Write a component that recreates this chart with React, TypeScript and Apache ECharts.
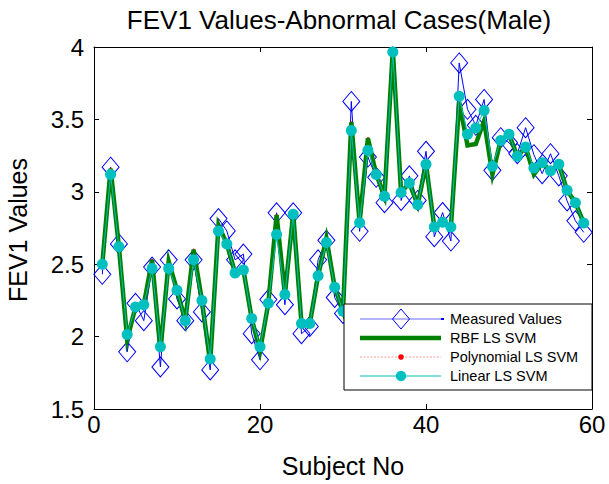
import React, { useEffect, useRef } from "react";
import * as echarts from "echarts";

const subjects: number[] = Array.from({ length: 59 }, (_, i) => i + 1);

const measuredValues: number[] = [
  2.43, 3.17, 2.64, 1.895, 2.23, 2.11, 2.48, 1.79, 2.53, 2.26,
  2.11, 2.53, 2.17, 1.77, 2.815, 2.73, 2.53, 2.57, 2.02, 1.84,
  2.256, 2.855, 2.22, 2.855, 2.02, 2.07, 2.53, 2.665, 2.27, 2.16,
  3.624, 2.727, 3.24, 3.1, 2.925, 4.005, 2.94, 3.11, 2.94, 3.28,
  2.69, 2.857, 2.66, 3.89, 3.57, 3.459, 3.638, 3.148, 3.374, 3.34,
  3.263, 3.443, 3.256, 3.125, 3.263, 3.11, 2.937, 2.8, 2.72,
];

const rbfValues: number[] = [
  2.5, 3.16, 2.62, 1.98, 2.205, 2.22, 2.53, 1.9, 2.52, 2.32,
  2.11, 2.6, 2.25, 1.82, 2.77, 2.64, 2.44, 2.46, 2.125, 1.9,
  2.23, 2.84, 2.29, 2.85, 2.09, 2.09, 2.42, 2.68, 2.34, 2.175,
  3.48, 2.787, 3.37, 3.12, 2.97, 3.98, 2.995, 3.06, 2.91, 3.19,
  2.757, 2.79, 2.757, 3.62, 3.32, 3.33, 3.49, 3.12, 3.355, 3.397,
  3.245, 3.31, 3.12, 3.2, 3.145, 3.19, 3.01, 2.925, 2.785,
];

const polyValues: number[] = [
  2.5, 3.16, 2.62, 1.98, 2.205, 2.22, 2.53, 1.9, 2.52, 2.32,
  2.11, 2.6, 2.25, 1.82, 2.77, 2.64, 2.44, 2.46, 2.125, 1.9,
  2.23, 2.84, 2.29, 2.85, 2.09, 2.09, 2.42, 2.68, 2.34, 2.175,
  3.48, 2.787, 3.37, 3.12, 2.97, 3.98, 2.995, 3.06, 2.91, 3.19,
  2.757, 2.79, 2.757, 3.62, 3.32, 3.33, 3.49, 3.12, 3.355, 3.397,
  3.245, 3.31, 3.12, 3.2, 3.145, 3.19, 3.01, 2.925, 2.785,
];

const linearValues: number[] = [
  2.5, 3.12, 2.62, 2.015, 2.205, 2.22, 2.47, 1.93, 2.47, 2.32,
  2.11, 2.53, 2.25, 1.845, 2.73, 2.64, 2.44, 2.46, 2.125, 1.93,
  2.23, 2.705, 2.29, 2.845, 2.09, 2.09, 2.42, 2.65, 2.34, 2.175,
  3.424, 2.787, 3.286, 3.12, 2.97, 3.965, 2.995, 3.06, 2.91, 3.19,
  2.757, 2.79, 2.757, 3.66, 3.397, 3.44, 3.562, 3.176, 3.355, 3.397,
  3.245, 3.31, 3.165, 3.2, 3.145, 3.19, 3.01, 2.925, 2.785,
];

const legendNames: string[] = [
  "Measured Values",
  "RBF LS SVM",
  "Polynomial LS SVM",
  "Linear LS SVM",
];

const FONT = "'Liberation Sans', Arial, Helvetica, sans-serif";

const pairs = (vals: number[]) => vals.map((v, i) => [subjects[i], v]);

export default function App() {
  const ref = useRef<HTMLDivElement>(null);

  useEffect(() => {
    document.body.style.margin = "0";
    if (!ref.current) return;
    const chart = echarts.init(ref.current, undefined, { renderer: "svg" });

    const gridLeft = 94;
    const gridRight = 17;
    const gridTop = 47;
    const gridBottom = 75;
    const plotRight = 609 - gridRight;
    const plotCenterX = (gridLeft + plotRight) / 2;

    const axisCommon = {
      axisLine: { show: true, onZero: false, lineStyle: { color: "#000", width: 1 } },
      axisTick: { show: true, inside: true, length: 5, lineStyle: { color: "#000", width: 1 } },
      splitLine: { show: false },
    };

    const lgX = 344;
    const lgY = 304;
    const lgW = plotRight - lgX;
    const lgH = 86;
    const rowY = [319, 338, 357, 376];
    const sx0 = 360;
    const sx1 = 441;
    const sxm = 401;
    const tx = 450;

    const legendGraphics: any[] = [
      {
        type: "rect",
        shape: { x: lgX, y: lgY, width: lgW, height: lgH },
        style: { fill: "#fff", stroke: "#000", lineWidth: 1 },
        z: 100,
      },
      {
        type: "line",
        shape: { x1: sx0, y1: rowY[0], x2: sx1, y2: rowY[0] },
        style: { stroke: "#6a6aff", lineWidth: 1 },
        z: 101,
      },
      {
        type: "line",
        shape: { x1: sx1, y1: rowY[0], x2: sx1 + 3, y2: rowY[0] },
        style: { stroke: "#0000ff", lineWidth: 2 },
        z: 101,
      },
      {
        type: "polygon",
        shape: {
          points: [
            [sxm, rowY[0] - 10],
            [sxm + 8.5, rowY[0]],
            [sxm, rowY[0] + 10],
            [sxm - 8.5, rowY[0]],
          ],
        },
        style: { fill: "rgba(0,0,0,0)", stroke: "#0000ff", lineWidth: 1 },
        z: 102,
      },
      {
        type: "line",
        shape: { x1: sx0, y1: rowY[1], x2: sx1, y2: rowY[1] },
        style: { stroke: "#008000", lineWidth: 4.5 },
        z: 101,
      },
      {
        type: "line",
        shape: { x1: sx0, y1: rowY[2], x2: sx1, y2: rowY[2] },
        style: { stroke: "#ff9a9a", lineWidth: 1, lineDash: [2, 1.5] },
        z: 101,
      },
      {
        type: "circle",
        shape: { cx: sxm, cy: rowY[2], r: 2.8 },
        style: { fill: "#ff0000" },
        z: 102,
      },
      {
        type: "line",
        shape: { x1: sx0, y1: rowY[3], x2: sx1, y2: rowY[3] },
        style: { stroke: "#00bfbf", lineWidth: 1 },
        z: 101,
      },
      {
        type: "circle",
        shape: { cx: sxm, cy: rowY[3], r: 5.2 },
        style: { fill: "#00bfbf" },
        z: 102,
      },
      ...legendNames.map((name, k) => ({
        type: "text",
        x: tx,
        y: rowY[k],
        style: {
          text: name,
          fill: "#000",
          font: `14.5px ${FONT}`,
          textAlign: "left",
          textVerticalAlign: "middle",
        },
        z: 102,
      })),
    ];

    chart.setOption({
      animation: false,
      backgroundColor: "#fff",
      grid: { left: gridLeft, right: gridRight, top: gridTop, bottom: gridBottom },
      xAxis: [
        {
          type: "value",
          min: 0,
          max: 60,
          interval: 20,
          position: "bottom",
          ...axisCommon,
          axisLabel: { color: "#000", fontSize: 24, fontFamily: FONT, margin: 3 },
        },
        {
          type: "value",
          min: 0,
          max: 60,
          interval: 20,
          position: "top",
          ...axisCommon,
          axisLabel: { show: false },
        },
      ],
      yAxis: [
        {
          type: "value",
          min: 1.5,
          max: 4,
          interval: 0.5,
          position: "left",
          ...axisCommon,
          axisLabel: { color: "#000", fontSize: 24, fontFamily: FONT, margin: 10 },
        },
        {
          type: "value",
          min: 1.5,
          max: 4,
          interval: 0.5,
          position: "right",
          ...axisCommon,
          axisLabel: { show: false },
        },
      ],
      series: [
        {
          name: legendNames[0],
          type: "line",
          data: pairs(measuredValues),
          symbol: "diamond",
          symbolSize: [17, 20],
          showSymbol: true,
          showAllSymbol: true,
          lineStyle: { color: "#0000ff", width: 1 },
          itemStyle: { color: "rgba(0,0,0,0)", borderColor: "#0000ff", borderWidth: 1 },
          z: 2,
        },
        {
          name: legendNames[2],
          type: "line",
          data: pairs(polyValues),
          symbol: "circle",
          symbolSize: 2,
          lineStyle: { color: "#ff0000", width: 1, type: "dotted" },
          itemStyle: { color: "#ff0000" },
          z: 3,
        },
        {
          name: legendNames[1],
          type: "line",
          data: pairs(rbfValues),
          symbol: "none",
          lineStyle: { color: "#008000", width: 4.5, join: "miter", miterLimit: 6 },
          itemStyle: { color: "#008000" },
          z: 4,
        },
        {
          name: legendNames[3],
          type: "line",
          data: pairs(linearValues),
          symbol: "circle",
          symbolSize: 11,
          showAllSymbol: true,
          lineStyle: { color: "#00bfbf", width: 1 },
          itemStyle: { color: "#00bfbf" },
          z: 5,
        },
      ],
      graphic: [
        {
          type: "text",
          x: plotCenterX - 4,
          y: 20,
          style: {
            text: "FEV1 Values-Abnormal Cases(Male)",
            fill: "#000",
            font: `26px ${FONT}`,
            textAlign: "center",
            textVerticalAlign: "middle",
          },
        },
        {
          type: "text",
          x: plotCenterX,
          y: 466,
          style: {
            text: "Subject No",
            fill: "#000",
            font: `25px ${FONT}`,
            textAlign: "center",
            textVerticalAlign: "middle",
          },
        },
        {
          type: "text",
          x: 18,
          y: 230,
          rotation: Math.PI / 2,
          style: {
            text: "FEV1 Values",
            fill: "#000",
            font: `25px ${FONT}`,
            textAlign: "center",
            textVerticalAlign: "middle",
          },
        },
        ...legendGraphics,
      ],
    });

    return () => {
      chart.dispose();
    };
  }, []);

  return <div ref={ref} style={{ width: 609, height: 484 }} />;
}
